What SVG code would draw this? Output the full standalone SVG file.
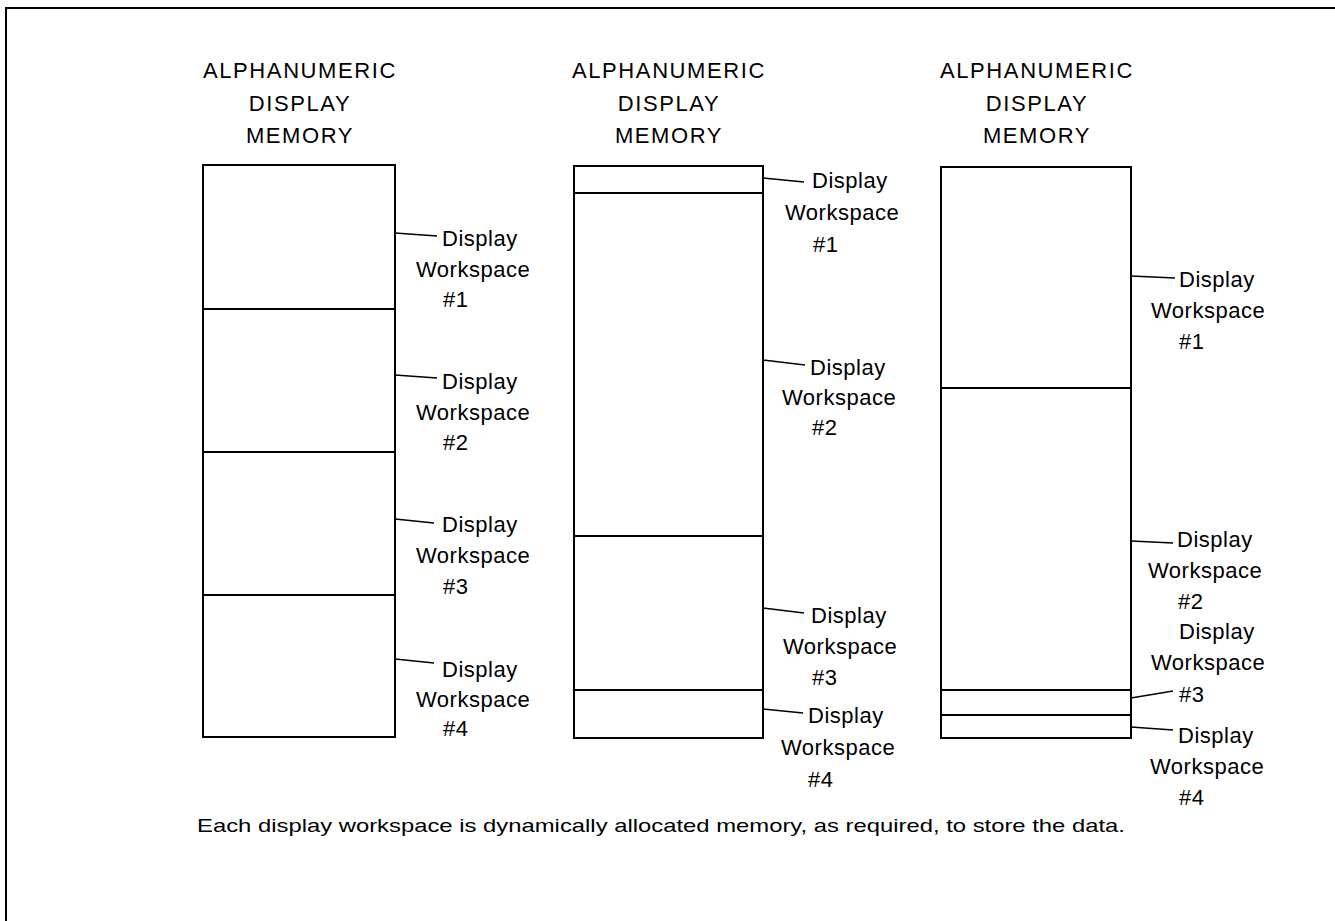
<svg xmlns="http://www.w3.org/2000/svg" width="1335" height="921" viewBox="0 0 1335 921">
<style>
.frame{fill:none;stroke:#000;stroke-width:2}
.box{fill:#fff;stroke:#000;stroke-width:2}
.div{stroke:#000;stroke-width:2}
.lead{stroke:#000;stroke-width:1.5;fill:none}
.hdr{font-family:"Liberation Sans",Arial,sans-serif;font-size:22px;letter-spacing:1.6px;fill:#000;text-anchor:middle}
.lbl{font-family:"Liberation Sans",Arial,sans-serif;font-size:22px;letter-spacing:0.5px;fill:#000}
.cap{font-family:"Liberation Sans",Arial,sans-serif;font-size:19px;fill:#000}
</style>
<rect width="1335" height="921" fill="#fff"/>
<path class="frame" d="M1335,8 L6,8 L6,921"/>

<g id="memory1">
<text class="hdr" x="300" y="78">ALPHANUMERIC</text>
<text class="hdr" x="300" y="111">DISPLAY</text>
<text class="hdr" x="300" y="143">MEMORY</text>
<rect class="box" x="203" y="165" width="192" height="572"/>
<line class="div" x1="203" y1="309" x2="395" y2="309"/>
<line class="div" x1="203" y1="452" x2="395" y2="452"/>
<line class="div" x1="203" y1="595" x2="395" y2="595"/>
</g>
<g id="memory2">
<text class="hdr" x="669" y="78">ALPHANUMERIC</text>
<text class="hdr" x="669" y="111">DISPLAY</text>
<text class="hdr" x="669" y="143">MEMORY</text>
<rect class="box" x="574" y="166" width="189" height="572"/>
<line class="div" x1="574" y1="193" x2="763" y2="193"/>
<line class="div" x1="574" y1="536" x2="763" y2="536"/>
<line class="div" x1="574" y1="690" x2="763" y2="690"/>
</g>
<g id="memory3">
<text class="hdr" x="1037" y="78">ALPHANUMERIC</text>
<text class="hdr" x="1037" y="111">DISPLAY</text>
<text class="hdr" x="1037" y="143">MEMORY</text>
<rect class="box" x="941" y="167" width="190" height="571"/>
<line class="div" x1="941" y1="388" x2="1131" y2="388"/>
<line class="div" x1="941" y1="690" x2="1131" y2="690"/>
<line class="div" x1="941" y1="715" x2="1131" y2="715"/>
</g>

<g id="connectors">
<line class="lead" x1="395" y1="233" x2="437" y2="236"/>
<line class="lead" x1="395" y1="375" x2="437" y2="378"/>
<line class="lead" x1="395" y1="519" x2="434" y2="523"/>
<line class="lead" x1="395" y1="659" x2="434" y2="663"/>
<line class="lead" x1="763" y1="178" x2="804" y2="182"/>
<line class="lead" x1="763" y1="360" x2="805" y2="365"/>
<line class="lead" x1="763" y1="608" x2="804" y2="613"/>
<line class="lead" x1="763" y1="709" x2="803" y2="713"/>
<line class="lead" x1="1131" y1="276" x2="1175" y2="278"/>
<line class="lead" x1="1131" y1="541" x2="1173" y2="543"/>
<line class="lead" x1="1131" y1="698" x2="1173" y2="691"/>
<line class="lead" x1="1131" y1="727" x2="1173" y2="730"/>
</g>

<g id="labels1">
<text class="lbl" x="442" y="246">Display</text><text class="lbl" x="416" y="277">Workspace</text><text class="lbl" x="443" y="307">#1</text>
<text class="lbl" x="442" y="389">Display</text><text class="lbl" x="416" y="420">Workspace</text><text class="lbl" x="443" y="450">#2</text>
<text class="lbl" x="442" y="532">Display</text><text class="lbl" x="416" y="563">Workspace</text><text class="lbl" x="443" y="594">#3</text>
<text class="lbl" x="442" y="677">Display</text><text class="lbl" x="416" y="707">Workspace</text><text class="lbl" x="443" y="736">#4</text>
</g>
<g id="labels2">
<text class="lbl" x="812" y="188">Display</text><text class="lbl" x="785" y="220">Workspace</text><text class="lbl" x="813" y="252">#1</text>
<text class="lbl" x="810" y="375">Display</text><text class="lbl" x="782" y="405">Workspace</text><text class="lbl" x="812" y="435">#2</text>
<text class="lbl" x="811" y="623">Display</text><text class="lbl" x="783" y="654">Workspace</text><text class="lbl" x="812" y="685">#3</text>
<text class="lbl" x="808" y="723">Display</text><text class="lbl" x="781" y="755">Workspace</text><text class="lbl" x="808" y="787">#4</text>
</g>
<g id="labels3">
<text class="lbl" x="1179" y="287">Display</text><text class="lbl" x="1151" y="318">Workspace</text><text class="lbl" x="1179" y="349">#1</text>
<text class="lbl" x="1177" y="547">Display</text><text class="lbl" x="1148" y="578">Workspace</text><text class="lbl" x="1178" y="609">#2</text>
<text class="lbl" x="1179" y="639">Display</text><text class="lbl" x="1151" y="670">Workspace</text><text class="lbl" x="1179" y="702">#3</text>
<text class="lbl" x="1178" y="743">Display</text><text class="lbl" x="1150" y="774">Workspace</text><text class="lbl" x="1179" y="805">#4</text>
</g>

<text id="caption" class="cap" x="197" y="832" textLength="928" lengthAdjust="spacingAndGlyphs">Each display workspace is dynamically allocated memory, as required, to store the data.</text>
</svg>
